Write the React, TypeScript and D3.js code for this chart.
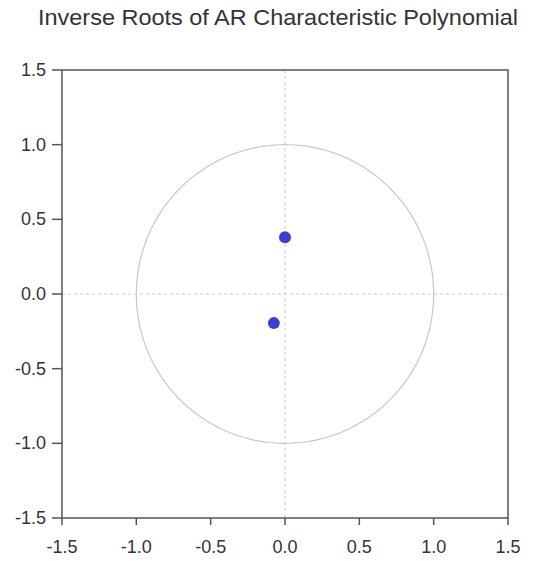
import React from "react";
import * as d3 from "d3";

const title = "Inverse Roots of AR Characteristic Polynomial";
const tickValues = [-1.5, -1.0, -0.5, 0.0, 0.5, 1.0, 1.5];
const rootRe = [0.0, -0.075];
const rootIm = [0.38, -0.195];

export default function App() {
  const W = 534, H = 561;
  const left = 62, right = 508, top = 70, bottom = 518;
  const x = d3.scaleLinear().domain([-1.5, 1.5]).range([left, right]);
  const y = d3.scaleLinear().domain([-1.5, 1.5]).range([bottom, top]);
  const circle = d3.range(0, 361, 2).map((a) => [Math.cos((a * Math.PI) / 180), Math.sin((a * Math.PI) / 180)] as [number, number]);
  const line = d3.line<[number, number]>().x((d) => x(d[0])).y((d) => y(d[1]));
  const font = "'Liberation Sans', Arial, sans-serif";
  return (
    <svg width={W} height={H} style={{ position: "absolute", left: 0, top: 0, background: "#fff" }}>
      <text x={278} y={25} textAnchor="middle" fontFamily={font} fontSize={22} fill="#333" textLength={480} lengthAdjust="spacingAndGlyphs">{title}</text>
      <line x1={x(0)} x2={x(0)} y1={top} y2={bottom} stroke="#c8c8c8" strokeDasharray="3,3" />
      <line x1={left} x2={right} y1={y(0)} y2={y(0)} stroke="#c8c8c8" strokeDasharray="3,3" />
      <path d={line(circle) || ""} fill="none" stroke="#c8c8c8" strokeWidth={1.2} />
      {rootRe.map((r, i) => (
        <circle key={i} cx={x(r)} cy={y(rootIm[i])} r={6} fill="#3a40d0" />
      ))}
      <rect x={left} y={top} width={right - left} height={bottom - top} fill="none" stroke="#555" strokeWidth={1.5} />
      {tickValues.map((t) => (
        <g key={"y" + t}>
          <line x1={left - 10} x2={left} y1={y(t)} y2={y(t)} stroke="#555" strokeWidth={1.5} />
          <text x={left - 16} y={y(t) + 6} textAnchor="end" fontFamily={font} fontSize={18} fill="#333">{t.toFixed(1)}</text>
        </g>
      ))}
      {tickValues.map((t) => (
        <g key={"x" + t}>
          <line x1={x(t)} x2={x(t)} y1={bottom} y2={bottom + 7} stroke="#555" strokeWidth={1.5} />
          <text x={x(t)} y={bottom + 35} textAnchor="middle" fontFamily={font} fontSize={18} fill="#333">{t.toFixed(1)}</text>
        </g>
      ))}
    </svg>
  );
}
